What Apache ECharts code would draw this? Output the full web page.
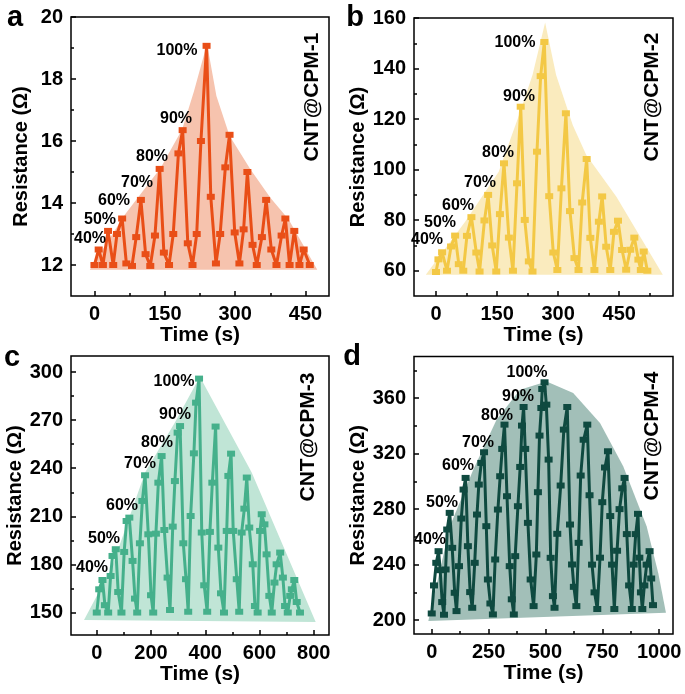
<!DOCTYPE html>
<html>
<head>
<meta charset="utf-8">
<script src="https://cdn.jsdelivr.net/npm/echarts@6/dist/echarts.min.js"></script>
<style>html,body{margin:0;padding:0;background:#fff}#c{width:685px;height:694px}</style>
</head>
<body>
<div id="c"></div>
<script>
// ---------- data ----------
const aTime = [0,9,18,29,40,48,59,68,80,89,99,109,119,129,139,148,159,168,179,188,199,209,218,227,239,248,259,268,279,288,299,309,318,326,337,346,357,366,377,388,399,407,416,426,437,446,459];
const aRes  = [12,12.5,12,13.1,12,13.0,13.5,12.05,11.97,12.9,14.1,12.35,11.97,12.95,15.1,12.4,12.0,13.0,15.6,16.35,12.7,12.0,13.0,16.0,19.07,14.2,12.05,13.0,15.15,16.2,13.05,12.05,13.15,15.0,12.65,12.0,12.9,14.1,12.5,12.0,12.95,13.5,12.0,13.1,12.0,12.5,12.0];

const bTime = [0,6,15,27,37,47,56,67,76,87,99,107,119,128,138,148,157,167,179,189,199,208,218,228,237,248,257,266,278,288,298,308,319,329,340,350,359,370,379,389,400,408,418,428,437,447,457,467,477,487,497,503,510,519];
const bRes  = [59.5,64.5,67.3,60,69.6,73.9,62.6,60,73.8,81.2,67.2,59.7,79.9,90,70,59.7,82.4,102.5,73.1,60,94.6,124.9,80.1,63.7,59.7,107.1,137,150.5,89.5,67.2,60.3,92.6,122.3,83.6,65,60.3,87,104.2,73,60.3,79.4,89.4,69.5,60.3,75.4,79.8,68.2,60.4,68.3,73.1,64.4,60.3,67.6,60];

const cTime = [0,9,21,30,42,51,58,70,79,91,101,110,120,132,141,149,159,168,178,190,200,208,218,227,239,249,261,270,280,288,298,307,319,329,337,346,358,366,377,387,396,407,417,426,438,448,458,469,479,485,495,503,516,525,534,544,553,562,575,583,593,602,608,618,626,636,645,655,663,676,686,694,704,713,719,728,737,749];
const cRes  = [150,164.5,170.3,154.6,150,172.8,185.3,189.5,162.8,150,187.8,207.1,209.2,182.2,158.7,150,193.2,219.6,235.6,198.8,160.8,150,199.2,231,247.6,201.5,171.8,151.6,203.6,232,262.2,266.3,193.2,170.8,150.5,210.2,249.3,280.9,295.9,199.9,167,150.5,200.3,231,266,190.5,162,150,200.9,235.2,249.1,200.9,170.8,150.5,199.9,214.8,234.2,203,180.1,154.1,150,200.9,211.3,205,186.3,160.4,150,168.7,180.1,187.4,171.8,154.1,150,160.4,164.5,170.3,156.6,150];

const dTime = [0,10,20,30,37,46,54, 61,68,79,90,101,109, 120,130,140,149,159,169,178, 189,199,207,218,230,240,247,258,269, 279,291,301,310,320,331,343,352,361, 367,379,389,397,404,411,423,435,448, 460,467,474,482,486,496,504,514,523,533,540, 552,567,581,596,608,617,625,636, 646,655,668,684,694,705,716,728, 740,750,762,775,785,793,803, 815,826,838,848,858,868,880, 888,897,907,913,920,926, 935,945,958,965,973];
const dRes  = [204.8,225,241.3,249.7,236,213,203.9, 236.5,265.3,277.3,252.1,219.7,206.5, 238.9,273.2,294.1,302.5,253.3,220.2,208.9, 241.3,276.1,297.7,313.3,321,267.7,229.3,212,204.1, 243.7,279.7,303.7,323.4,340.9,289.3,238.9,215,204.1, 246.1,282.1,310.4,340.2,353.6,323.4,270.1,229.3,210.1, 247.3,292.2,333,352.9,366.6,371.4,355.3,315.7,244.9,217.3,208.9, 262.2,297,337.3,353.6,268.9,240.1,224,210.1, 255.7,304.2,330,340.9,290,240,220,208, 245,285,310,321.7,275,240,208, 250,280,295,302.5,262,225,208, 240,262,276.6,245,220,208, 225,240,249.7,230,210.8];

// shaded envelopes behind each curve
const aEnvT = [-10,65,141,187,212,240,260,288,332,375,414,475];
const aEnvV = [11.85,13.63,15.13,16.38,17.6,19.14,17.45,16.17,15.1,14.17,13.47,11.85];
const bEnvT = [-25,72,154,204,237,268,295,336,369,443,557];
const bEnvV = [58.4,79.5,99.2,121.6,137.4,158.2,137.4,117.6,105.8,89.3,58.4];
const cEnvT = [-47,55,178,288,380,571,807];
const cEnvV = [145.4,178,237.3,268.5,297,237.3,144.1];
const dEnvT = [-15,80,183,285,388,505,622,740,842,945,996,1030];
const dEnvV = [199.3,267.7,308.5,344.5,366,372,363.7,342,310.9,267.7,234,205.3];

// tick labels
const aXMajor = [0,150,300,450], aXMinor = [75,225,375];
const aYMajor = [12,14,16,18,20], aYMinor = [13,15,17,19];
const bXMajor = [0,150,300,450], bXMinor = [75,225,375,525];
const bYMajor = [60,80,100,120,140,160], bYMinor = [70,90,110,130,150];
const cXMajor = [0,200,400,600,800], cXMinor = [100,300,500,700];
const cYMajor = [150,180,210,240,270,300], cYMinor = [165,195,225,255,285];
const dXMajor = [0,250,500,750,1000], dXMinor = [125,375,625,875];
const dYMajor = [200,240,280,320,360], dYMinor = [220,260,300,340,380];

const strainLabels = ['40%','50%','60%','70%','80%','90%','100%'];
const sampleNames = ['CNT@CPM-1','CNT@CPM-2','CNT@CPM-3','CNT@CPM-4'];
const panelLetters = ['a','b','c','d'];

// ---------- layout & styles ----------
const FONT = 'Liberation Sans, Arial, Helvetica, sans-serif';
const panels = [
  {t:aTime,v:aRes,et:aEnvT,ev:aEnvV,xMaj:aXMajor,xMin:aXMinor,yMaj:aYMajor,yMin:aYMinor,
   xr:[-50,500],yr:[11,20],grid:{left:71,top:17,width:258,height:279},
   line:'#E94E17',fill:'#F6C3AE',yGap:40,
   lab:[[90,239],[100,220],[114,201],[137,183],[152,157],[176,119],[177,51]],name:[312,97],letter:[15,18]},
  {t:bTime,v:bRes,et:bEnvT,ev:bEnvV,xMaj:bXMajor,xMin:bXMinor,yMaj:bYMajor,yMin:bYMinor,
   xr:[-54,582],yr:[50,160],grid:{left:414,top:18,width:259,height:278},
   line:'#F3C845',fill:'#FAEBBE',yGap:45,
   lab:[[427,240],[440,223],[458,206],[480,183],[498,153],[519,97],[515,43]],name:[652,97],letter:[355,18]},
  {t:cTime,v:cRes,et:cEnvT,ev:cEnvV,xMaj:cXMajor,xMin:cXMinor,yMaj:cYMajor,yMin:cYMinor,
   xr:[-95,856],yr:[136,310],grid:{left:71,top:356,width:258,height:279},
   line:'#45B08B',fill:'#C0E5D6',yGap:45,
   lab:[[92,568],[104,539],[122,506],[140,464],[157,443],[175,415],[174,382]],name:[308,437],letter:[12,358]},
  {t:dTime,v:dRes,et:dEnvT,ev:dEnvV,xMaj:dXMajor,xMin:dXMinor,yMaj:dYMajor,yMin:dYMinor,
   xr:[-78,1061],yr:[190,390],grid:{left:414,top:356.5,width:259,height:277.5},
   line:'#0F4A40',fill:'#A2BFB8',yGap:45,
   lab:[[430,540],[442,503],[458,466],[478,443],[497,416],[518,397],[527,373]],name:[652,436],letter:[352,357]}
];

const grids=[], xAxes=[], yAxes=[], series=[], graphics=[];
const tickStyle = {color:'#000', width:1.5};
const plain = v => String(v);
panels.forEach((p,g)=>{
  grids.push(Object.assign({show:true, borderColor:'#000', borderWidth:1.5, backgroundColor:'transparent'}, p.grid));
  xAxes.push({type:'value', gridIndex:g, min:p.xr[0], max:p.xr[1], position:'bottom',
    axisLine:{show:false,onZero:false}, splitLine:{show:false},
    axisTick:{inside:true,length:5,lineStyle:tickStyle,customValues:p.xMaj},
    axisLabel:{customValues:p.xMaj,formatter:plain,fontSize:20,fontFamily:FONT,fontWeight:'bold',color:'#000',margin:8},
    name:'Time (s)', nameLocation:'middle', nameGap:29,
    nameTextStyle:{fontSize:21,fontFamily:FONT,fontWeight:'bold',color:'#000'}});
  xAxes.push({type:'value', gridIndex:g, min:p.xr[0], max:p.xr[1], position:'bottom',
    axisLine:{show:false,onZero:false}, splitLine:{show:false}, axisLabel:{show:false},
    axisTick:{inside:true,length:3,lineStyle:tickStyle,customValues:p.xMin}});
  yAxes.push({type:'value', gridIndex:g, min:p.yr[0], max:p.yr[1], position:'left',
    axisLine:{show:false,onZero:false}, splitLine:{show:false},
    axisTick:{inside:true,length:5,lineStyle:tickStyle,customValues:p.yMaj},
    axisLabel:{customValues:p.yMaj,formatter:plain,fontSize:20,fontFamily:FONT,fontWeight:'bold',color:'#000',margin:8},
    name:'Resistance (Ω)', nameLocation:'middle', nameGap:p.yGap,
    nameTextStyle:{fontSize:20,fontFamily:FONT,fontWeight:'bold',color:'#000'}});
  yAxes.push({type:'value', gridIndex:g, min:p.yr[0], max:p.yr[1], position:'left',
    axisLine:{show:false,onZero:false}, splitLine:{show:false}, axisLabel:{show:false},
    axisTick:{inside:true,length:3,lineStyle:tickStyle,customValues:p.yMin}});

  const env = p.et.map((t,i)=>[t,p.ev[i]]);
  series.push({type:'custom', xAxisIndex:2*g, yAxisIndex:2*g, data:env, silent:true, z:1,
    renderItem:(params,api)=>{
      if(params.dataIndex!==0) return null;
      const pts = env.map(q=>api.coord(q));
      return {type:'polygon', shape:{points:pts}, style:{fill:p.fill}};
    }});
  series.push({type:'line', xAxisIndex:2*g, yAxisIndex:2*g, z:3,
    data:p.t.map((t,i)=>[t,p.v[i]]),
    symbol:'rect', symbolSize:[8,6], showAllSymbol:true,
    lineStyle:{color:p.line,width:3}, itemStyle:{color:p.line}});

  p.lab.forEach((xy,i)=>graphics.push({type:'text', x:xy[0], y:xy[1], z:100,
    style:{text:strainLabels[i], font:'bold 16px '+FONT, fill:'#000', align:'center', verticalAlign:'middle'}}));
  graphics.push({type:'text', x:p.name[0], y:p.name[1], rotation:Math.PI/2, z:100,
    style:{text:sampleNames[g], font:'bold 21px '+FONT, fill:'#000', align:'center', verticalAlign:'middle'}});
  graphics.push({type:'text', x:p.letter[0], y:p.letter[1], z:100,
    style:{text:panelLetters[g], font:'bold 29px '+FONT, fill:'#000', align:'center', verticalAlign:'middle'}});
});

const chart = echarts.init(document.getElementById('c'), null, {renderer:'canvas'});
chart.setOption({animation:false, backgroundColor:'#fff', grid:grids, xAxis:xAxes, yAxis:yAxes, series:series, graphic:graphics});
</script>
</body>
</html>
